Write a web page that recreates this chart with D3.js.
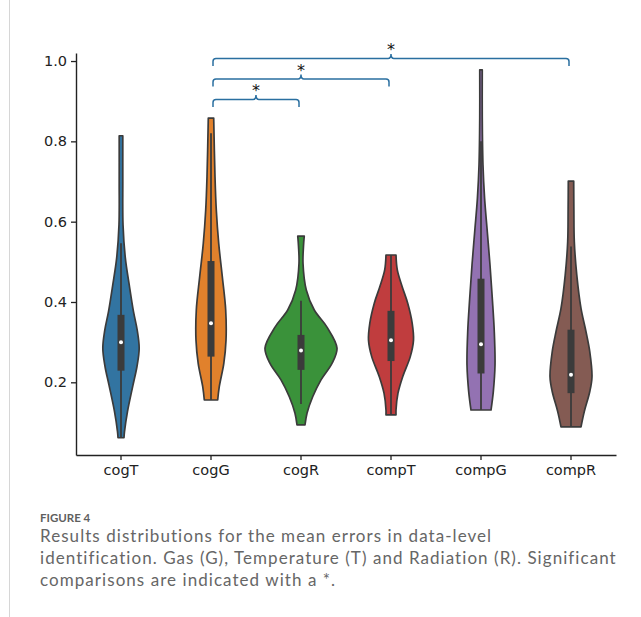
<!DOCTYPE html>
<html>
<head>
<meta charset="utf-8">
<script src="https://cdn.jsdelivr.net/npm/d3@7"></script>
<style>
  body { margin: 0; background: #fff; }
  svg { display: block; }
</style>
</head>
<body>
<svg id="chart" width="641" height="617"></svg>
<script>
// categories (order on the x axis)
const categories = ["cogT", "cogG", "cogR", "compT", "compG", "compR"];
const colors = ["#3274a1", "#e1812c", "#3a923a", "#c03d3e", "#9372b2", "#845b53"];

// violin density profiles: [value, relative density]
const cogTDensity = [[0.062,0.083],[0.077,0.097],[0.127,0.18],[0.193,0.333],[0.24,0.445],[0.285,0.505],[0.33,0.45],[0.376,0.347],[0.442,0.23],[0.51,0.12],[0.592,0.056],[0.70,0.05],[0.814,0.05]];
const cogGDensity = [[0.156,0.186],[0.189,0.23],[0.247,0.356],[0.305,0.417],[0.38,0.408],[0.463,0.314],[0.546,0.214],[0.629,0.147],[0.712,0.111],[0.858,0.075]];
const cogRDensity = [[0.094,0.111],[0.123,0.167],[0.164,0.325],[0.206,0.556],[0.247,0.861],[0.285,1.0],[0.338,0.717],[0.38,0.369],[0.43,0.147],[0.496,0.056],[0.54,0.07],[0.564,0.09]];
const compTDensity = [[0.119,0.139],[0.131,0.139],[0.173,0.194],[0.214,0.325],[0.264,0.536],[0.305,0.625],[0.347,0.589],[0.397,0.464],[0.438,0.311],[0.48,0.175],[0.517,0.139]];
const compGDensity = [[0.131,0.278],[0.177,0.342],[0.243,0.389],[0.326,0.369],[0.409,0.314],[0.492,0.25],[0.575,0.175],[0.658,0.1],[0.741,0.055],[0.86,0.035],[0.978,0.035]];
const compRDensity = [[0.089,0.278],[0.127,0.369],[0.177,0.522],[0.214,0.583],[0.276,0.522],[0.326,0.417],[0.384,0.278],[0.467,0.161],[0.55,0.092],[0.63,0.08],[0.701,0.075]];
const densities = [cogTDensity, cogGDensity, cogRDensity, compTDensity, compGDensity, compRDensity];

// inner box stats
const q1s      = [0.229, 0.264, 0.231, 0.253, 0.222, 0.173];
const medians  = [0.300, 0.347, 0.279, 0.305, 0.295, 0.219];
const q3s      = [0.368, 0.502, 0.318, 0.378, 0.458, 0.331];
const whiskLow = [0.062, 0.156, 0.146, 0.119, 0.131, 0.089];
const whiskHi  = [0.546, 0.820, 0.403, 0.517, 0.800, 0.538];

// significant comparisons [from, to]
const comparisons = [["cogG", "cogR"], ["cogG", "compT"], ["cogG", "compR"]];

const yTicks = [0.2, 0.4, 0.6, 0.8, 1.0];
const captionTitle = "FIGURE 4";
const captionLines = [
  "Results distributions for the mean errors in data-level",
  "identification. Gas (G), Temperature (T) and Radiation (R). Significant",
  "comparisons are indicated with a *."
];

//++++++++++++++++++++++++++++++++++++++++++++++++++\\
//                    Setup                         \\
//++++++++++++++++++++++++++++++++++++++++++++++++++\\

const svg = d3.select("#chart");
const ink = "#222";
const edge = "#3b3b3b";

// page border on the left
svg.append("line")
  .attr("x1", 9.5).attr("x2", 9.5).attr("y1", 0).attr("y2", 617)
  .attr("stroke", "#d6d6d6").attr("stroke-width", 1);

const x = d3.scaleBand().domain(categories).range([76, 616]).padding(0);
const y = d3.scaleLinear().domain([0.019, 1.02]).range([455, 53]);
const w = d3.scaleLinear().domain([0, 1]).range([0, x.bandwidth() * 0.4]);
const cx = c => x(c) + x.bandwidth() / 2;

// axes
const yAxis = svg.append("g")
  .attr("transform", "translate(76,0)")
  .call(d3.axisLeft(y).tickValues(yTicks).tickFormat(d3.format(".1f")).tickSize(5).tickSizeOuter(0).tickPadding(4));

const xAxis = svg.append("g")
  .attr("transform", "translate(0,455)")
  .call(d3.axisBottom(x).tickSize(5).tickSizeOuter(0).tickPadding(5));

[yAxis, xAxis].forEach(g => {
  g.select(".domain").attr("stroke", ink).attr("stroke-width", 1.4);
  g.selectAll(".tick line").attr("stroke", ink).attr("stroke-width", 1.3);
  g.selectAll(".tick text")
    .attr("fill", ink)
    .attr("font-family", "DejaVu Sans, sans-serif")
    .attr("font-size", 14.5);
});

//++++++++++++++++++++++++++++++++++++++++++++++++++\\
//                    Violins                       \\
//++++++++++++++++++++++++++++++++++++++++++++++++++\\

const violins = svg.append("g").selectAll("g")
  .data(categories)
  .enter().append("g");

violins.append("path")
  .attr("d", (c, i) => d3.area()
      .y(d => y(d[0]))
      .x0(d => cx(c) - w(d[1]))
      .x1(d => cx(c) + w(d[1]))
      .curve(d3.curveCatmullRom.alpha(0.5))(densities[i]))
  .attr("fill", (c, i) => colors[i])
  .attr("stroke", edge)
  .attr("stroke-width", 1.7)
  .attr("stroke-linejoin", "round");

// whiskers
violins.append("line")
  .attr("x1", c => cx(c)).attr("x2", c => cx(c))
  .attr("y1", (c, i) => y(whiskLow[i]))
  .attr("y2", (c, i) => y(whiskHi[i]))
  .attr("stroke", edge).attr("stroke-width", 1.8);

// boxes
violins.append("rect")
  .attr("x", c => cx(c) - 3.5)
  .attr("width", 7)
  .attr("y", (c, i) => y(q3s[i]))
  .attr("height", (c, i) => y(q1s[i]) - y(q3s[i]))
  .attr("fill", edge);

// medians
violins.append("circle")
  .attr("cx", c => cx(c))
  .attr("cy", (c, i) => y(medians[i]))
  .attr("r", 2)
  .attr("fill", "#fff");

//++++++++++++++++++++++++++++++++++++++++++++++++++\\
//                    Brackets                      \\
//++++++++++++++++++++++++++++++++++++++++++++++++++\\

function BracketPath(x1, x2, yh){
  const xm = (x1 + x2) / 2, r = 3;
  return `M${x1},${yh + 7.5} L${x1},${yh + r} Q${x1},${yh} ${x1 + r},${yh}` +
         ` L${xm - r},${yh} Q${xm},${yh} ${xm},${yh - 4.5} Q${xm},${yh} ${xm + r},${yh}` +
         ` L${x2 - r},${yh} Q${x2},${yh} ${x2},${yh + r} L${x2},${yh + 7.5}`;
}

const brackets = svg.append("g").selectAll("g")
  .data(comparisons)
  .enter().append("g");

const bracketY = i => y(0.904) - i * 20.5;

brackets.append("path")
  .attr("d", (d, i) => BracketPath(cx(d[0]) + 2, cx(d[1]) - 2, bracketY(i)))
  .attr("fill", "none")
  .attr("stroke", "#2a6fa0")
  .attr("stroke-width", 1.5);

brackets.append("text")
  .attr("x", d => (cx(d[0]) + cx(d[1])) / 2)
  .attr("y", (d, i) => bracketY(i) - 3.5)
  .attr("text-anchor", "middle")
  .attr("font-family", "DejaVu Sans, sans-serif")
  .attr("font-size", 16)
  .attr("fill", "#111")
  .text("*");

//++++++++++++++++++++++++++++++++++++++++++++++++++\\
//                    Caption                       \\
//++++++++++++++++++++++++++++++++++++++++++++++++++\\

svg.append("text")
  .attr("x", 40).attr("y", 522)
  .attr("font-family", "Lato, sans-serif")
  .attr("font-weight", 700)
  .attr("font-size", 11.5)
  .attr("fill", "#5f5f5f")
  .text(captionTitle);

const lineTexts = svg.append("g").selectAll("text")
  .data(captionLines)
  .enter().append("text")
  .attr("x", 40)
  .attr("y", (d, i) => 542 + i * 22)
  .attr("font-family", "Lato, sans-serif")
  .attr("font-size", 17)
  .attr("fill", "#666")
  .text(d => d);

// same letter spacing for all lines, taken from the long middle line
const mid = lineTexts.filter((d, i) => i === 1);
const midLen = mid.node().getComputedTextLength();
const ls = (577 - midLen) / captionLines[1].length;
lineTexts.attr("letter-spacing", ls);
</script>
</body>
</html>
